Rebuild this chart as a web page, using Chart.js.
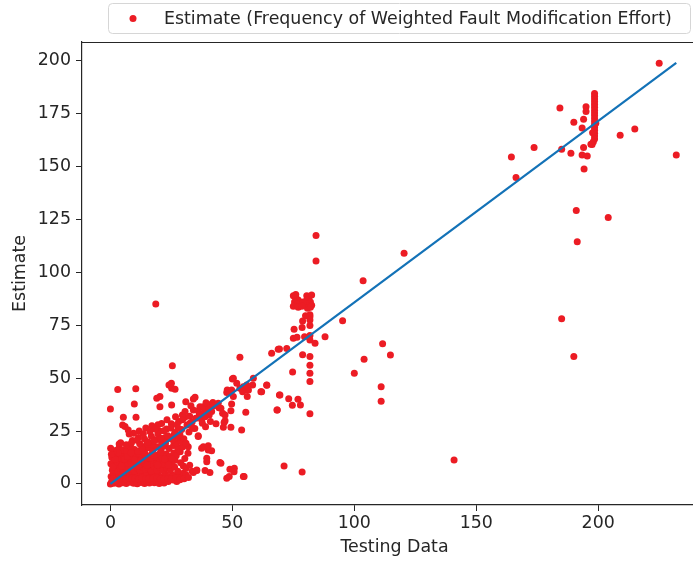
<!DOCTYPE html>
<html>
<head>
<meta charset="utf-8">
<script src="https://cdn.jsdelivr.net/npm/chart.js@4.4.1/dist/chart.umd.min.js"></script>
<style>
    html, body { margin: 0; padding: 0; background: #fff; }
    #wrap { width: 693px; height: 564px; overflow: hidden; position: relative; }
    #chart { display: block; }
</style>
</head>
<body>
<div id="wrap"><canvas id="chart" width="712" height="564"></canvas></div>
<script>
// Tick labels
const xTicks = [0, 50, 100, 150, 200];
const yTicks = [0, 25, 50, 75, 100, 125, 150, 175, 200];

// Scatter points [testing data, estimate], read off the picture by region
const originCluster = [
    [0, 0], [0.5, 1], [1, 0.3], [1.5, 2], [2, 0.5], [3, 1.2], [3.5, 0], [4, 2], [5, 0.6], [5.5, 1.8],
    [6.5, 0.2], [7, 1.5], [8, 0.8], [9, 2.2], [9.5, 0.3], [10.5, 1.4], [11, 0.1], [12, 2], [12.5, 0.7], [13.5, 1.6],
    [14, 0.2], [15, 1.1], [16, 0.4], [17, 1.9], [18, 0.6], [19, 1.5], [20, 0.2], [21, 1.2], [22, 0.5], [23.7, 1.1],
    [25.8, 1.9], [27.2, 1.1],
    [0.3, 3.5], [1.2, 4.6], [2.4, 3.1], [3.3, 5], [4.6, 3.8], [5.8, 4.9], [6.9, 3.3], [8.1, 4.4], [9.2, 3.2], [10.3, 5.1],
    [11.4, 3.7], [12.6, 4.8], [13.8, 3.4], [14.9, 4.5], [16.1, 3.1], [17.2, 4.9], [18.3, 3.6], [19.6, 4.4], [21, 3.3], [22.5, 4.7],
    [24, 3.5], [25.5, 4.2], [28, 3.9], [29.9, 5], [31, 4.4],
    [0.8, 6.5], [1.9, 7.8], [2.9, 6.1], [4.1, 7.4], [5.2, 6.3], [6.3, 8.1], [7.5, 6.8], [8.6, 7.9], [9.8, 6.2], [10.9, 7.6],
    [12.1, 6.5], [13.2, 8], [14.4, 6.9], [15.6, 7.7], [16.7, 6.1], [17.9, 8.2], [19.1, 6.6], [20.4, 7.9], [21.6, 6.4], [23, 7.5],
    [24.6, 6.6], [26.3, 8], [29.9, 8.5], [31, 7.4],
    [0.2, 9.5], [1.5, 10.8], [2.6, 9.2], [3.8, 10.6], [4.9, 9.4], [6, 11], [7.2, 9.7], [8.4, 10.9], [9.6, 9.3], [10.7, 10.4],
    [11.9, 9.1], [13, 11.2], [14.2, 9.8], [15.3, 10.6], [16.5, 9.5], [17.7, 11.1], [18.9, 9.9], [20.2, 10.7], [21.8, 9.6], [23.4, 10.9],
    [25, 9.8],
    [0.6, 12.5], [1.8, 13.7], [3, 12.2], [4.3, 13.9], [5.5, 12.8], [6.8, 14.1], [8, 12.4], [9.3, 13.6], [10.6, 12.9], [11.8, 14.3],
    [13.1, 12.6], [14.5, 13.8], [15.8, 12.3], [17.1, 14.4], [18.5, 12.9], [19.8, 13.9], [21.3, 12.5], [22.9, 14.2], [24.5, 13], [26, 14.6],
    [2.2, 15.8], [3.6, 17.2], [5, 16.1], [6.6, 15.4], [8.2, 17.5], [9.9, 16.3], [11.3, 15.5], [12.8, 17.8], [14.1, 16.4], [15.7, 17.1],
    [17.4, 15.9], [19.2, 17.6], [20.8, 16.2], [22.4, 17.9], [24.1, 16.8], [25.9, 18.2], [27.6, 17]
];

const originFill = [
    [1, 2.5], [2.5, 1.8], [3.8, 2.6], [5, 2.9], [6.2, 2.4], [7.6, 2.9], [8.8, 2.7], [10, 2.6], [11.5, 2.5], [12.8, 2.9],
    [14.5, 2.6], [15.8, 2.4], [17.5, 2.8], [19, 2.7], [20.5, 2.5], [22, 2.3], [23.5, 2.6], [25, 2.2], [26.8, 3], [28.5, 2],
    [30.2, 2.5], [32, 3.1], [33.5, 6], [32.5, 8.8], [27.6, 6], [28.8, 10], [26.5, 11.2], [27, 13.5], [28.6, 15.2], [30.5, 12],
    [31.8, 14.5], [29.5, 17.5],
    [1, 8], [2, 11.5], [3.2, 14.8], [4.5, 8.5], [5.8, 11.8], [7, 13], [8.5, 14.8], [9.9, 11.4], [11.2, 8.4], [12.4, 10.8],
    [13.9, 14.9], [15.1, 8.8], [16.4, 12.2], [17.8, 13.4], [19.4, 8.9], [20.6, 15], [22.2, 11.8], [23.8, 8.8], [25.3, 12], [1.2, 15.5],
    [0.4, 14], [4.2, 19.5], [6.5, 18.5], [9, 20.5], [11.5, 22], [13, 17], [15, 19], [17, 18.5], [19, 21], [21, 19.5],
    [22.5, 22], [24.5, 21.5], [26, 23], [27, 19.5], [29, 20], [20, 25], [23, 26], [25, 28.5], [28, 29.5], [30.5, 31.5],
    [32.5, 32], [19.5, 28], [17, 27.5], [14.5, 26.5], [11.8, 25], [9.5, 24], [34, 35], [36.5, 33], [38.5, 34], [40, 37.5],
    [42, 38.5], [44.5, 36], [33, 37], [41, 29.5], [39, 27], [35, 31]
];

const lowerBand = [
    [12, 19], [14, 21.3], [15.5, 19.8], [16.8, 22.5], [18, 20.4], [19.5, 23.8], [20.7, 21.6], [21.9, 25.1], [22.6, 19.4], [23.5, 22.8],
    [24.8, 26.5], [25.6, 20.9], [26.4, 24.3], [27.3, 28], [28.1, 22.1], [29.2, 25.7], [30.1, 21.4], [31.4, 27.9], [32.2, 24.6], [33.5, 29.3],
    [34.6, 26.2], [18.3, 26], [16.2, 24.8], [21, 28.6], [23.2, 30.4], [26.7, 31.8], [29.5, 32.6], [13.5, 23.7], [10.8, 20.6], [8.6, 19.4],
    [7.7, 23.6], [7.3, 25.5], [6, 27.1], [5, 27.9], [5.3, 31.5], [10.5, 31.5], [0.1, 16.9], [3.6, 18.9], [0, 35.4], [9.8, 37.8],
    [3, 44.6], [10.4, 45], [18.6, 85.1],
    [27.8, 26.3], [28.5, 23.2], [29.6, 30.3], [30.6, 34.2], [31.9, 17.6], [31, 19.2], [32.6, 28.7], [33.7, 26.3], [34, 40.2], [34.7, 41],
    [30.9, 38.9], [25.1, 37.3], [20.3, 36.5], [20.3, 41.3], [19, 40.5], [24, 46.8], [25.1, 45.2], [26.5, 44.8], [25, 47.6], [25.4, 55.9],
    [36, 22.4], [36.7, 36.5], [36, 34.6], [37.4, 30.3], [37.7, 28.7], [38.1, 36.5], [39.2, 38.4], [40.5, 35.8], [41.5, 34.2], [40.5, 32.6],
    [38.8, 31.8], [42.2, 36.9], [44.2, 38.1], [45.3, 35.8], [46, 33.4], [43.3, 28.4], [46.3, 26.8], [47, 29.9], [49.4, 26.8], [53.8, 25.5],
    [55.5, 33.9], [49.7, 37.8], [49.4, 34.6], [47, 32.6], [46.6, 29], [47.9, 44.4], [49, 43.6], [50.4, 41.3], [47.7, 43.2], [49.7, 44.4],
    [50.4, 50], [51.8, 47.6], [50, 49.6], [53.1, 45.2], [54.2, 43.6], [54.5, 46], [55.9, 44.4], [56.6, 44.4], [56.1, 41.3], [58.6, 50],
    [58.3, 46.8], [55.9, 46.8], [61.7, 43.6], [64.1, 46.8], [62, 43.6], [53.1, 59.9], [66.1, 61.8], [68.8, 63.7], [69.3, 42], [68.3, 35],
    [36, 22.8], [44.9, 10.1], [39.5, 12.1], [40.1, 16.1], [41.5, 15.7], [37.4, 16.9], [38.1, 17.6], [40.1, 18], [49, 6.9], [50.4, 6.6],
    [54.5, 3.5], [40.8, 5.4], [38.8, 6.3], [35.4, 6.3], [34, 5.4], [47.7, 2.7], [45.3, 9.8], [50.8, 7.4], [50.7, 5.8], [48.7, 3.5],
    [54.8, 3.5], [39.5, 10.5], [35.4, 6.6]
];

const middleBand = [
    [84.3, 117.4], [84.3, 105.4], [120.4, 109], [103.6, 96.1],
    [75, 89], [76, 88], [77, 87], [75.5, 86], [76.5, 85], [75, 84], [77, 83.5], [76, 89.5], [80.5, 89], [81.5, 88.5],
    [82.5, 89.3], [80.5, 87], [82, 86], [81, 85], [82.5, 84.5], [80.8, 83], [82, 83.5], [79, 86], [78.5, 84],
    [81.8, 80], [81.8, 79], [80, 79.5],
    [78.8, 77], [81.8, 77.5], [75.3, 73.1], [78.6, 74], [81.8, 74.9], [75, 68.9], [76.5, 69.3], [79.6, 69.6], [81.8, 70.2], [81.8, 68],
    [83.9, 66.5], [88, 69.6], [95.2, 77.2], [69.3, 63.8], [72.3, 64], [78.8, 61.1], [81.8, 60.2], [81.8, 56.1], [81.8, 52.3], [81.8, 48.4],
    [74.7, 52.9], [111.6, 66.3], [114.8, 61], [104, 58.9], [100, 52.3], [111, 45.9], [111, 39.1], [64.1, 46.6], [69.5, 42], [73.1, 40.3],
    [76.9, 40], [74.6, 37.2], [77.9, 37.3], [68.4, 35], [81.8, 33.2], [78.6, 5.7], [71.2, 8.5], [140.9, 11.3]
];

const upperBand = [
    [225, 198.8], [195, 178.3], [195, 176], [184.3, 177.7], [190, 171], [194, 172.4], [193.4, 168.3], [209, 164.8], [215, 167.8], [232, 155.5],
    [164.4, 154.6], [173.7, 159], [185, 158.2], [188.8, 156.3], [194, 159], [193.4, 155.5], [195.5, 155], [194.2, 148.9], [197, 160.6], [166.3, 144.8],
    [191, 129.2], [204.1, 125.9], [191.4, 114.5], [185, 78.1], [190, 60.2],
    [198.5, 184.5], [198.5, 183.2], [198.5, 182], [198.5, 180.7], [198.5, 179.4], [198.5, 178], [198.5, 176.6], [198.5, 175.3], [198.5, 174], [198.5, 172.6],
    [198.5, 171.2], [198.5, 169.8], [198.5, 168.5], [198.5, 167.2], [198.5, 165.8], [198.5, 164.5], [198.5, 163.1], [198, 161.8], [197.5, 160.5], [199, 170.5],
    [197.7, 166]
];

// Fitted line endpoints
const fitLine = [[0, 0], [232, 199]];

const toPoints = rows => rows.map(([x, y]) => ({ x, y }));
const scatterPoints = [originCluster, originFill, lowerBand, middleBand, upperBand].flatMap(toPoints);

const FONT = "'DejaVu Sans', sans-serif";
const FONT_SIZE = 17.4;
const INK = '#262626';
const RED = '#ec1c24';
const BLUE = '#1372b7';
const LEGEND_LABEL = 'Estimate (Frequency of Weighted Fault Modification Effort)';

/**
 * Top spine and the matplotlib-like legend box.
 */
const framePlugin = {
    id: 'frame',
    afterDraw(chart) {
        const { ctx, chartArea } = chart;
        ctx.save();
        ctx.strokeStyle = INK;
        ctx.lineWidth = 1.2;
        ctx.beginPath();
        ctx.moveTo(chartArea.left, chartArea.top + 0.5);
        ctx.lineTo(chartArea.right, chartArea.top + 0.5);
        ctx.stroke();

        // legend
        const lx = 108.5, ly = 3.5, lw = 582, lh = 30, r = 4;
        ctx.beginPath();
        ctx.roundRect(lx, ly, lw, lh, r);
        ctx.fillStyle = 'rgba(255,255,255,0.8)';
        ctx.fill();
        ctx.strokeStyle = '#d6d6d6';
        ctx.lineWidth = 1;
        ctx.stroke();

        ctx.fillStyle = RED;
        ctx.beginPath();
        ctx.arc(133, 18.5, 3.5, 0, Math.PI * 2);
        ctx.fill();

        ctx.fillStyle = INK;
        ctx.font = `${FONT_SIZE}px ${FONT}`;
        ctx.textBaseline = 'middle';
        ctx.textAlign = 'left';
        ctx.fillText(LEGEND_LABEL, 164, 19);
        ctx.restore();
    }
};

new Chart(document.getElementById('chart'), {
    type: 'scatter',
    data: {
        datasets: [
            {
                type: 'line',
                label: 'Fit',
                data: toPoints(fitLine),
                borderColor: BLUE,
                borderWidth: 2.2,
                pointRadius: 0,
                fill: false,
                order: 0,
            },
            {
                label: LEGEND_LABEL,
                data: scatterPoints,
                backgroundColor: RED,
                borderWidth: 0,
                pointRadius: 3.5,
                order: 1,
            },
        ],
    },
    options: {
        responsive: false,
        animation: false,
        devicePixelRatio: 1,
        layout: { padding: { left: 0, top: 42, right: 5, bottom: 0 } },
        plugins: {
            legend: { display: false },
            tooltip: { enabled: false },
        },
        scales: {
            x: {
                type: 'linear',
                min: -11.65,
                max: 244.6,
                afterBuildTicks: scale => { scale.ticks = xTicks.map(value => ({ value })); },
                afterFit: scale => { scale.height = 59; },
                grid: { drawOnChartArea: false, drawTicks: true, tickLength: 6, color: INK },
                border: { display: true, color: INK, width: 1.2 },
                ticks: { color: INK, font: { family: FONT, size: FONT_SIZE }, padding: 2, maxRotation: 0 },
                title: { display: true, text: 'Testing Data', color: INK, font: { family: FONT, size: FONT_SIZE }, padding: { top: 0, bottom: 5.6 } },
            },
            y: {
                type: 'linear',
                min: -9.95,
                max: 208.9,
                afterBuildTicks: scale => { scale.ticks = yTicks.map(value => ({ value })); },
                afterFit: scale => { scale.width = 82; },
                grid: { drawOnChartArea: false, drawTicks: true, tickLength: 6, color: INK },
                border: { display: true, color: INK, width: 1.2 },
                ticks: { color: INK, font: { family: FONT, size: FONT_SIZE }, padding: 5 },
                title: { display: true, text: 'Estimate', color: INK, font: { family: FONT, size: FONT_SIZE }, padding: { top: 9.6, bottom: 0 } },
            },
        },
    },
    plugins: [framePlugin],
});
</script>
</body>
</html>
